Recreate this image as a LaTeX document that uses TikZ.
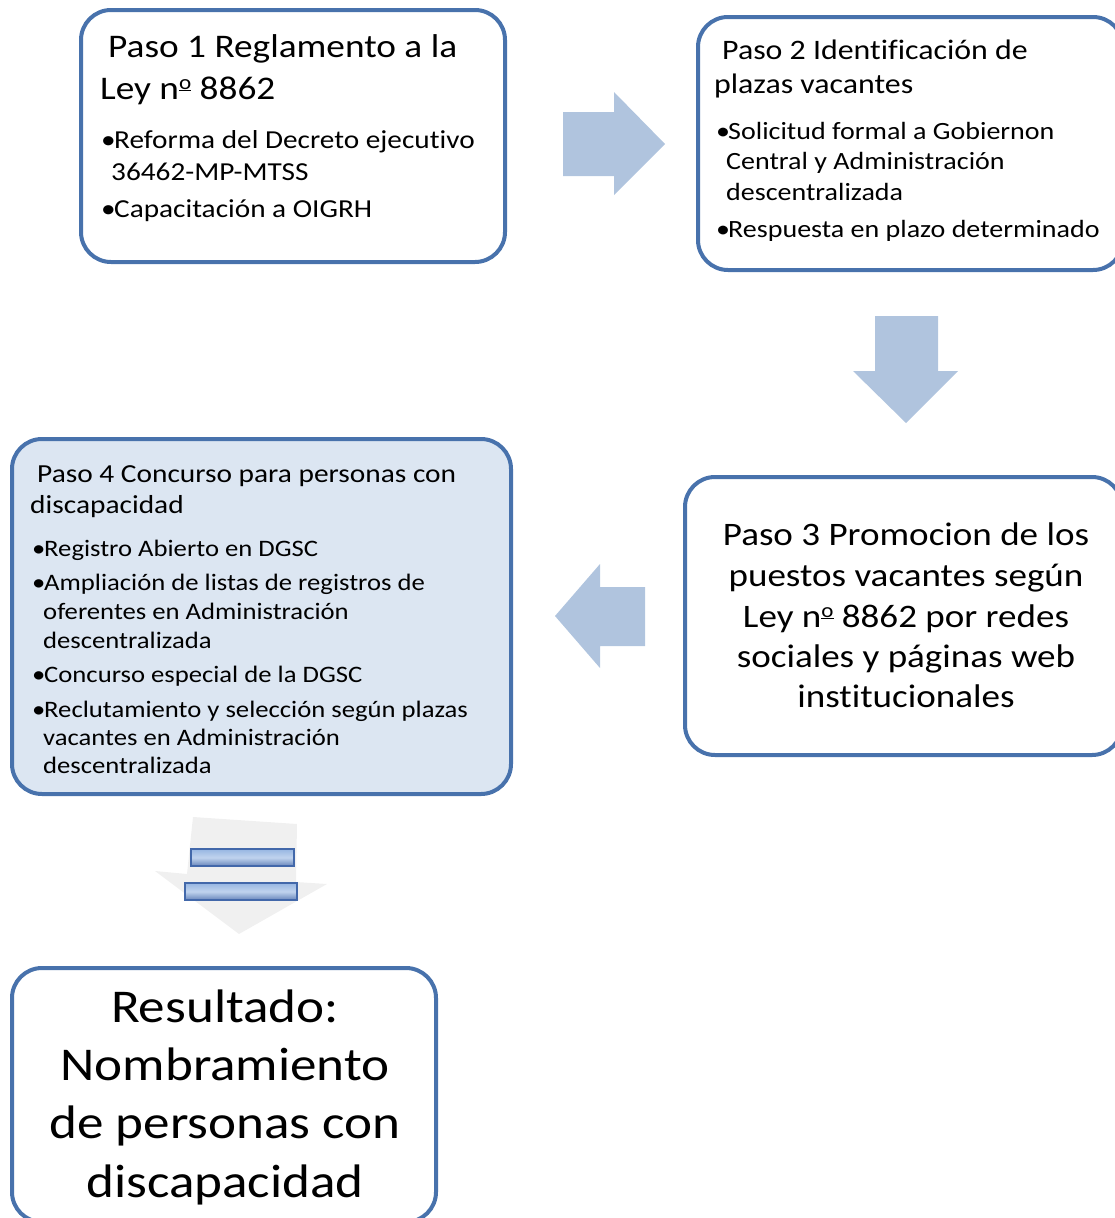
\documentclass[tikz,border=0pt]{standalone}
\usepackage{fontspec}
\usepackage{graphicx}
\setmainfont{Carlito}[FakeStretch=1.13, Ligatures=NoCommon]
\definecolor{bord}{RGB}{72,114,172}
\definecolor{arr}{RGB}{176,196,222}
\definecolor{lite}{RGB}{220,230,242}
\definecolor{bardark}{RGB}{66,104,170}
\definecolor{barlite}{RGB}{150,182,226}
\tikzset{
  box/.style={draw=bord, line width=4pt, rounded corners=30pt, inner sep=0pt, fill=white},
  ln/.style={anchor=base west, inner sep=0pt},
  cln/.style={anchor=base, inner sep=0pt},
  blockarrow/.style={fill=arr, draw=none},
  bar/.style={draw=bardark, line width=2.5pt, top color=barlite, bottom color=bardark!80, middle color=barlite!60},
}
\newcommand{\bul}[1]{\makebox[#1][l]{•}}
\newcommand{\numo}{\raisebox{.3em}{\scalebox{.62}{\underline{o}}}}
\begin{document}
\begin{tikzpicture}[x=1pt,y=-1pt]
\useasboundingbox (0,0) rectangle (1115,1218);
\clip (0,0) rectangle (1115,1218);
% boxes
\node[box, minimum width=424pt, minimum height=252pt] (b1) at (293,136) {};
\node[box, minimum width=425pt, minimum height=253pt] (b2) at (910.5,143.5) {};
\node[box, minimum width=437pt, minimum height=278pt] (b3) at (903.5,616) {};
\node[box, fill=lite, minimum width=499pt, minimum height=355pt] (b4) at (261.5,616.5) {};
\node[box, minimum width=424pt, minimum height=254pt] (b5) at (224,1095) {};
% box 1 text
\begin{scope}[every node/.style={ln, font=\fontsize{33}{40}\selectfont}]
\node (t1a) at (108,57) {Paso 1 Reglamento a la};
\node (t1b) at (100,99) {Ley n\numo{} 8862};
\end{scope}
\begin{scope}[every node/.style={ln, font=\fontsize{25.9}{30}\selectfont}]
\node (t1c) at (101,148) {\bul{13pt}Reforma del Decreto ejecutivo};
\node (t1d) at (111,180) {36462-MP-MTSS};
\node (t1e) at (101,217) {\bul{13pt}Capacitación a OIGRH};
\end{scope}
% box 2 text
\begin{scope}[every node/.style={ln, font=\fontsize{28.2}{34}\selectfont}]
\node (t2a) at (722,59) {Paso 2 Identificación de};
\node (t2b) at (714,93) {plazas vacantes};
\end{scope}
\begin{scope}[every node/.style={ln, font=\fontsize{24.8}{29}\selectfont}]
\node (t2c) at (716,139) {\bul{12pt}Solicitud formal a Gobiernon};
\node (t2d) at (726,169) {Central y Administración};
\node (t2e) at (726,200) {descentralizada};
\node (t2f) at (716,237) {\bul{12pt}Respuesta en plazo determinado};
\end{scope}
% box 3 text
\begin{scope}[every node/.style={cln, font=\fontsize{32.8}{41}\selectfont}]
\node (t3a) at (906,545) {Paso 3 Promocion de los};
\node (t3b) at (906,586) {puestos vacantes según};
\node (t3c) at (906,627) {Ley n\numo{} 8862 por redes};
\node (t3d) at (906,667) {sociales y páginas web};
\node (t3e) at (906,707) {institucionales};
\end{scope}
% box 4 text
\begin{scope}[every node/.style={ln, font=\fontsize{26}{32}\selectfont}]
\node (t4a) at (37,482) {Paso 4 Concurso para personas con};
\node (t4b) at (30,513) {discapacidad};
\end{scope}
\begin{scope}[every node/.style={ln, font=\fontsize{23.6}{28}\selectfont}]
\node (t4c) at (32,556) {\bul{12pt}Registro Abierto en DGSC};
\node (t4d) at (32,590) {\bul{12pt}Ampliación de listas de registros de};
\node (t4e) at (43,619) {oferentes en Administración};
\node (t4f) at (43,648) {descentralizada};
\node (t4g) at (32,682) {\bul{12pt}Concurso especial de la DGSC};
\node (t4h) at (32,717) {\bul{12pt}Reclutamiento y selección según plazas};
\node (t4i) at (43,745) {vacantes en Administración};
\node (t4j) at (43,773) {descentralizada};
\end{scope}
% box 5 text
\begin{scope}[every node/.style={cln, font=\fontsize{47}{58}\selectfont}]
\node (t5a) at (225,1022) {Resultado:};
\node (t5b) at (225,1080) {Nombramiento};
\node (t5c) at (225,1138) {de personas con};
\node (t5d) at (225,1197) {discapacidad};
\end{scope}
% block arrows
\fill[blockarrow] (563,112) -- (614,112) -- (614,92) -- (665,144) -- (614,195) -- (614,176) -- (563,176) -- cycle;
\fill[blockarrow] (875,316) -- (938,316) -- (938,371) -- (958,371) -- (906,423) -- (853,371) -- (875,371) -- cycle;
\fill[blockarrow] (645,587) -- (645,646) -- (600,646) -- (600,668) -- (555,616) -- (600,564) -- (600,587) -- cycle;
% bottom arrow (faded, striped)
\fill[gray!12] (193,817) -- (297,824) -- (296,882) -- (327,884) -- (239,934) -- (155,871) -- (187,874) -- cycle;
\draw[bar] (191,849) rectangle (294,866);
\draw[bar] (185,883) rectangle (297,900);
\end{tikzpicture}
\end{document}
